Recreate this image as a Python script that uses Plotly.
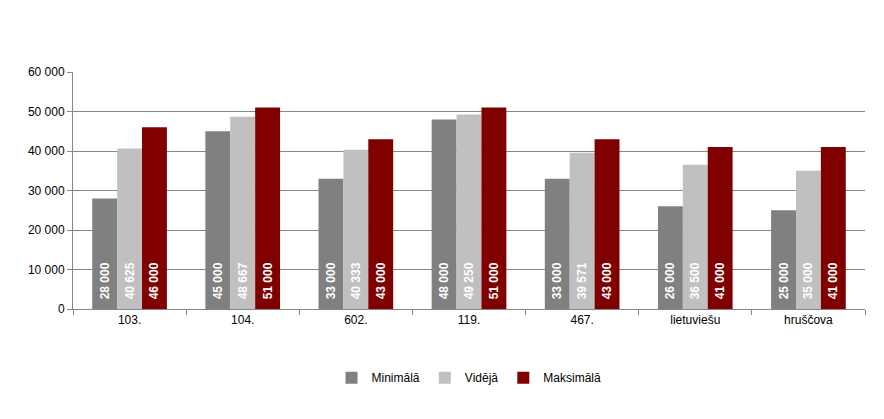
import plotly.graph_objects as go

categories = ["103.", "104.", "602.", "119.", "467.", "lietuviešu", "hruščova"]
minimala = [28000, 45000, 33000, 48000, 33000, 26000, 25000]
videja = [40625, 48667, 40333, 49250, 39571, 36500, 35000]
maksimala = [46000, 51000, 43000, 51000, 43000, 41000, 41000]
series_names = ["Minimālā", "Vidējā", "Maksimālā"]
colors = ["#808080", "#C0C0C0", "#800000"]
y_ticks = [0, 10000, 20000, 30000, 40000, 50000, 60000]

def fmt(v):
    return f"{v:,}".replace(",", " ")

fig = go.Figure()
for name, vals, col in zip(series_names, [minimala, videja, maksimala], colors):
    fig.add_trace(go.Bar(
        x=categories, y=vals, name=name, marker=dict(color=col, line=dict(width=0)),
        text=["\u00a0\u00a0" + fmt(v) for v in vals], textposition="inside", insidetextanchor="start",
        textangle=-90, textfont=dict(color="white", size=12, family="Liberation Sans", weight="bold"),
        cliponaxis=False,
    ))

fig.update_layout(
    width=884, height=419,
    margin=dict(l=65, r=27, t=64, b=118),
    paper_bgcolor="white", plot_bgcolor="white",
    barmode="group", bargap=0.34, bargroupgap=0,
    separators=". ",
    font=dict(family="Liberation Sans", size=12, color="#000000"),
    showlegend=True,
    legend=dict(orientation="h", x=0.5, xanchor="center", y=-0.29, yanchor="middle",
                font=dict(size=12), itemwidth=30, traceorder="normal"),
    uniformtext=dict(minsize=8, mode="show"),
)
fig.update_xaxes(showline=True, linecolor="#868686", linewidth=1, ticks="outside",
                 tickson="boundaries", ticklen=5, tickcolor="#868686",
                 showgrid=False, tickfont=dict(size=12))
fig.update_yaxes(range=[0, 60000], tickvals=y_ticks, ticktext=[fmt(v) for v in y_ticks],
                 showgrid=True, gridcolor="#868686", gridwidth=1,
                 showline=True, linecolor="#868686", ticks="outside", ticklen=5,
                 tickcolor="#868686", zeroline=False, tickfont=dict(size=12))
fig.write_html("out.html")
